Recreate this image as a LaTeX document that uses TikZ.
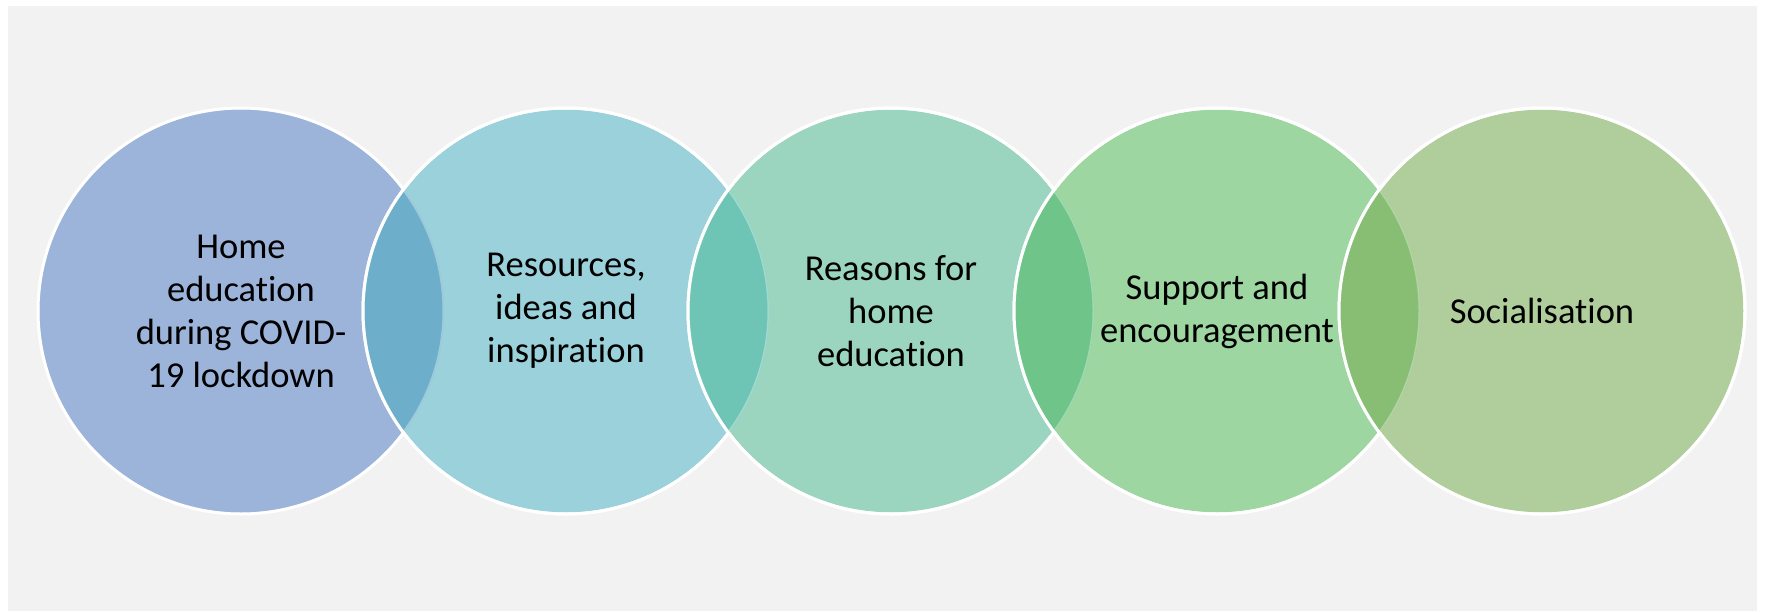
\documentclass[tikz,border=0pt]{standalone}
\usepackage{fontspec}
\setmainfont{Carlito}[RawFeature={-liga}]
\definecolor{bggrey}{HTML}{F2F2F2}
\definecolor{cA}{HTML}{9CB3DA}
\definecolor{cB}{HTML}{9BD1DA}
\definecolor{cC}{HTML}{9BD5C0}
\definecolor{cD}{HTML}{9DD6A0}
\definecolor{cE}{HTML}{B0CE9B}
\definecolor{oAB}{HTML}{6DAFCB}
\definecolor{oBC}{HTML}{6EC5B5}
\definecolor{oCD}{HTML}{6EC489}
\definecolor{oDE}{HTML}{87BE73}
\tikzset{
  venn/.style={circle, minimum size=406pt, inner sep=0pt, outer sep=0pt, draw=white, line width=3pt},
  lbl/.style={align=center, font=\fontsize{36.5}{43}\selectfont, text=black, inner sep=0pt},
  faint/.style={draw=white, draw opacity=0.35, line width=3pt}
}
\begin{document}
\begin{tikzpicture}[x=1pt,y=-1pt]
\useasboundingbox (0,0) rectangle (1765,611);
\fill[white] (0,0) rectangle (1765,611);
\fill[bggrey] (8,6) rectangle (1757,611);
% circles
\node[venn, fill=cA] (c1) at (241,311) {};
\node[venn, fill=cB] (c2) at (566,311) {};
\begin{scope}
  \clip (c1.center) circle (203);
  \fill[oAB] (c2.center) circle (203);
  \path[faint] (c1.center) circle (203);
\end{scope}
\draw[white, line width=3pt] (c2.center) circle (203);
\node[venn, fill=cC] (c3) at (891,311) {};
\begin{scope}
  \clip (c2.center) circle (203);
  \fill[oBC] (c3.center) circle (203);
  \path[faint] (c2.center) circle (203);
\end{scope}
\draw[white, line width=3pt] (c3.center) circle (203);
\node[venn, fill=cD] (c4) at (1217,311) {};
\begin{scope}
  \clip (c3.center) circle (203);
  \fill[oCD] (c4.center) circle (203);
  \path[faint] (c3.center) circle (203);
\end{scope}
\draw[white, line width=3pt] (c4.center) circle (203);
\node[venn, fill=cE] (c5) at (1542,311) {};
\begin{scope}
  \clip (c4.center) circle (203);
  \fill[oDE] (c5.center) circle (203);
  \path[faint] (c4.center) circle (203);
\end{scope}
\draw[white, line width=3pt] (c5.center) circle (203);
% labels
\node[lbl] (t1) at (c1.center) {Home\\education\\during COVID-\\19 lockdown};
\node[lbl] (t2) at (c2.center) {Resources,\\ideas and\\inspiration};
\node[lbl] (t3) at (c3.center) {Reasons for\\home\\education};
\node[lbl] (t4) at (c4.center) {Support and\\encouragement};
\node[lbl] (t5) at (c5.center) {Socialisation};
\end{tikzpicture}
\end{document}
